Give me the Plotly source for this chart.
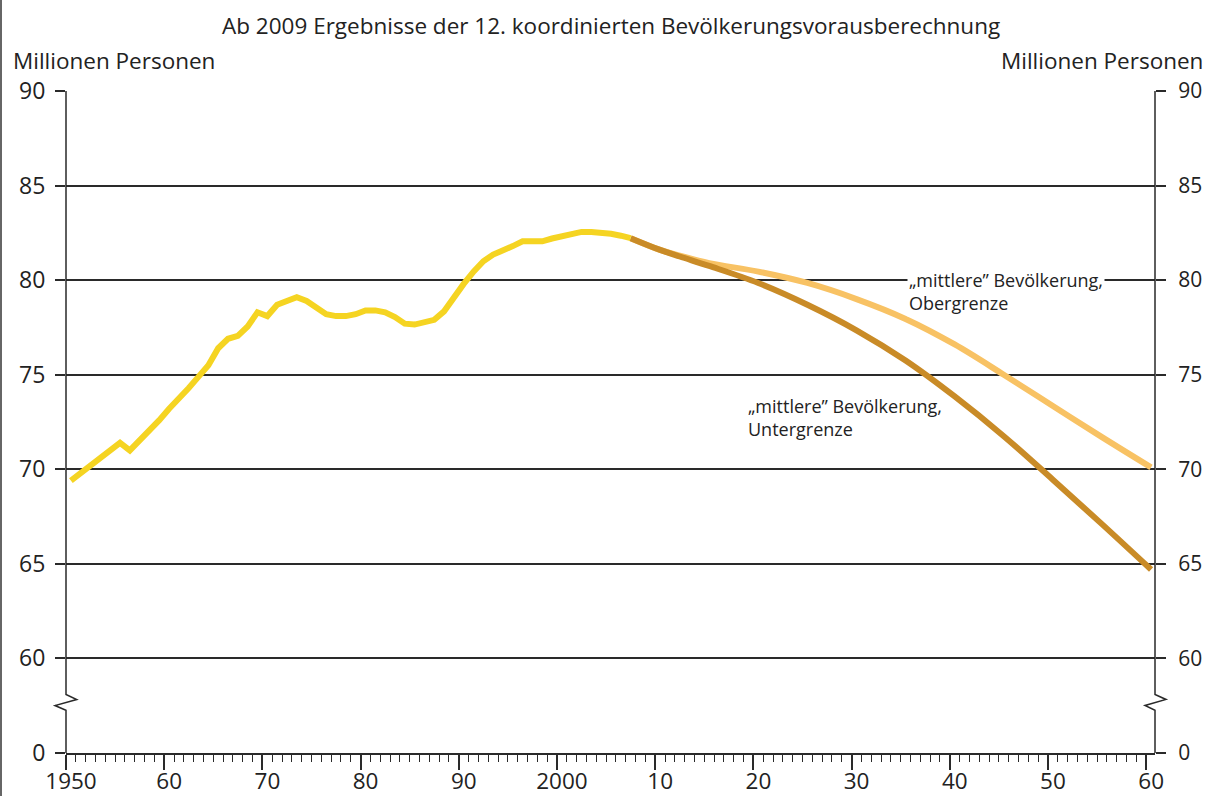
import plotly.graph_objects as go

# ---------------- data ----------------
hist_years = list(range(1950, 2008))
hist_values = [69.4, 69.8, 70.2, 70.6, 71.0, 71.4, 71.0, 71.5, 72.1, 72.6,
               73.2, 73.7, 74.3, 74.9, 75.5, 76.4, 76.9, 77.05, 77.55, 78.3,
               78.1, 78.7, 78.9, 79.1, 78.9, 78.5, 78.2, 78.1, 78.1, 78.2,
               78.4, 78.4, 78.3, 78.05, 77.7, 77.65, 77.75, 77.9, 78.35, 79.1,
               79.8, 80.45, 81.0, 81.35, 81.55, 81.8, 82.05, 82.07, 82.05, 82.2,
               82.3, 82.45, 82.55, 82.55, 82.52, 82.45, 82.35, 82.22]

proj_years = [2007, 2010, 2012, 2015, 2020, 2025, 2030, 2035, 2040, 2045, 2050, 2055, 2060]
upper_values = [82.22, 81.6, 81.3, 80.9, 80.45, 79.85, 79.0, 77.95, 76.6, 75.0, 73.35, 71.7, 70.1]
lower_values = [82.22, 81.6, 81.25, 80.75, 79.85, 78.7, 77.35, 75.75, 73.85, 71.75, 69.45, 67.1, 64.7]

major_years = [1950, 1960, 1970, 1980, 1990, 2000, 2010, 2020, 2030, 2040, 2050, 2060]
major_labels = ["1950", "60", "70", "80", "90", "2000", "10", "20", "30", "40", "50", "60"]

y_tickvals = [55, 60, 65, 70, 75, 80, 85, 90]      # 55 is the display position of the broken "0"
y_ticktext = ["0", "60", "65", "70", "75", "80", "85", "90"]

# values are annual figures shown in the middle of each year interval
def mid(years):
    return [y + 0.5 for y in years]

FONT = "Open Sans"
TXT = "#222222"
AX = "#2a2a2a"
X_MAX = 2060.9
PX = 1 / 1089.0   # one pixel in paper x units
PY = 1 / 662.0    # one pixel in paper y units

fig = go.Figure()
fig.add_trace(go.Scatter(x=mid(proj_years), y=upper_values, mode="lines",
                         line=dict(color="#F8C264", width=6, shape="spline", smoothing=1.0),
                         hoverinfo="skip", showlegend=False))
fig.add_trace(go.Scatter(x=mid(proj_years), y=lower_values, mode="lines",
                         line=dict(color="#C98B27", width=6, shape="spline", smoothing=1.0),
                         hoverinfo="skip", showlegend=False))
fig.add_trace(go.Scatter(x=mid(hist_years), y=hist_values, mode="lines",
                         line=dict(color="#F5D422", width=6),
                         hoverinfo="skip", showlegend=False))
# invisible trace so the right-hand axis is rendered
fig.add_trace(go.Scatter(x=mid(proj_years), y=lower_values, yaxis="y2", mode="lines",
                         line=dict(color="rgba(0,0,0,0)", width=0),
                         hoverinfo="skip", showlegend=False))

# axis lines with break marks (paper x so they are not clipped)
def axis_path(x, dl, dr):
    return (f"M {x},90 L {x},58.09 L {x+dr*PX},57.83 L {x-dl*PX},57.51 "
            f"L {x},57.26 L {x},55")

shapes = [
    dict(type="path", xref="paper", yref="y", path=axis_path(0, 11, 10.7),
         line=dict(color=AX, width=1.5)),
    dict(type="path", xref="paper", yref="y", path=axis_path(1, 10, 11),
         line=dict(color=AX, width=1.5)),
    dict(type="line", xref="paper", yref="paper", x0=-65 * PX, x1=-65 * PX, y0=-0.07, y1=1.14,
         line=dict(color="#666666", width=2)),
]

annotations = [
    dict(text="Ab 2009 Ergebnisse der 12. koordinierten Bevölkerungsvorausberechnung",
         xref="paper", yref="paper", x=0.5005, y=1 + 63 * PY + 3 * PY, xanchor="center",
         yanchor="middle",
         showarrow=False, font=dict(family=FONT, size=22.5, color=TXT)),
    dict(text="Millionen Personen", xref="paper", yref="paper",
         x=-55 * PX, y=1 + 31 * PY, xanchor="left", yanchor="middle",
         showarrow=False, font=dict(family=FONT, size=22.5, color=TXT)),
    dict(text="Millionen Personen", xref="paper", yref="paper",
         x=1 + 50 * PX, y=1 + 31 * PY, xanchor="right", yanchor="middle",
         showarrow=False, font=dict(family=FONT, size=22.5, color=TXT)),
    dict(text="„mittlere” Bevölkerung,<br>Obergrenze", xref="x", yref="y",
         x=2035.6, y=79.4, xanchor="left", yanchor="middle", align="left",
         bgcolor="white", borderpad=1,
         showarrow=False, font=dict(family=FONT, size=18, color=TXT)),
    dict(text="„mittlere” Bevölkerung,<br>Untergrenze", xref="x", yref="y",
         x=2019.2, y=72.75, xanchor="left", yanchor="middle", align="left",
         showarrow=False, font=dict(family=FONT, size=18, color=TXT)),
]

yaxis_common = dict(range=[55, 90], tickmode="array", tickvals=y_tickvals, ticktext=y_ticktext,
                    ticks="outside", ticklen=10, tickwidth=1.5, tickcolor=AX,
                    showline=False, zeroline=False, fixedrange=True, automargin=False)

fig.update_layout(
    width=1206, height=796, autosize=False,
    margin=dict(l=66, r=51, t=91, b=43),
    paper_bgcolor="white", plot_bgcolor="white",
    showlegend=False,
    xaxis=dict(range=[1950, X_MAX], tickmode="array", tickvals=major_years, ticktext=major_labels,
               ticks="outside", ticklen=15, tickwidth=1.5, tickcolor=AX,
               ticklabelshift=5, ticklabelstandoff=-8, automargin=False,
               minor=dict(tickmode="linear", tick0=1950, dtick=1, ticks="outside",
                          ticklen=7, tickwidth=1.2, tickcolor=AX, showgrid=False),
               tickfont=dict(family=FONT, size=22.5, color=TXT),
               showline=True, linecolor=AX, linewidth=1.5,
               showgrid=False, zeroline=False, fixedrange=True),
    yaxis=dict(**yaxis_common, showgrid=True, gridcolor=AX, gridwidth=1.5,
               tickfont=dict(family=FONT, size=23, color=TXT),
               ticklabelstandoff=5),
    yaxis2=dict(**yaxis_common, overlaying="y", side="right", showgrid=False,
                tickfont=dict(family=FONT, size=21, color=TXT),
                ticklabelstandoff=8),
    shapes=shapes,
    annotations=annotations,
)

fig.write_html("out.html", config={"displayModeBar": False},
               post_script="document.body.style.margin='0';document.body.style.overflow='hidden';")
